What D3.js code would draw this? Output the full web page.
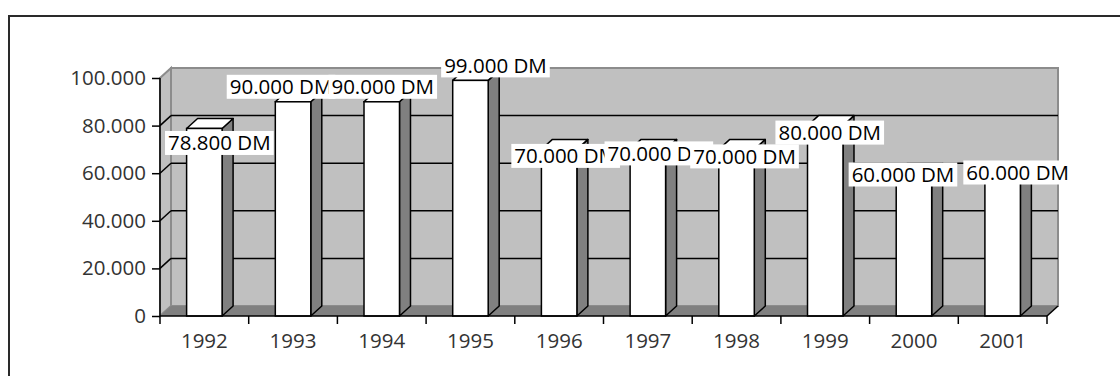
<!DOCTYPE html>
<html>
<head>
<meta charset="utf-8">
<script src="https://cdn.jsdelivr.net/npm/d3@7"></script>
<style>
  body { margin: 0; background: #fff; }
  svg text { font-family: "Open Sans", "Noto Sans", sans-serif; }
</style>
</head>
<body>
<svg id="chart" width="1120" height="376"></svg>
<script>
const years = ["1992", "1993", "1994", "1995", "1996", "1997", "1998", "1999", "2000", "2001"];
const revenue = [78800, 90000, 90000, 99000, 70000, 70000, 70000, 80000, 60000, 60000];
const yTicks = [0, 20000, 40000, 60000, 80000, 100000];

// where Excel dropped each data label, relative to the bar top (px)
const labelDx = [15, -12, 1, 25, 6.5, 11, 8, 4.5, -11, 15];
const labelDy = [14.5, -15, -15, -15, 6.5, 4, 7, 7, 1.3, -0.7];

(function revenueChart() {
  const svg = d3.select("#chart");
  const de = d3.formatLocale({ decimal: ",", thousands: ".", grouping: [3], currency: ["", " DM"] });
  const fmt = de.format(",.0f");

  const left = 160, right = 1047, bottom = 316, top = 78;
  const depth = { dx: 11, dy: -10 };

  const x = d3.scaleBand().domain(years).range([left, right]).padding(0);
  const y = d3.scaleLinear().domain([0, 100000]).range([bottom, top]);
  const barW = x.bandwidth() * 0.4;
  const pts = p => p.map(d => d.join(",")).join(" ");

  // outer frame
  svg.append("rect")
    .attr("x", 9).attr("y", 16)
    .attr("width", 1300).attr("height", 500)
    .attr("fill", "none").attr("stroke", "#2a2a2a").attr("stroke-width", 2);

  const walls = svg.append("g");
  // back wall
  walls.append("rect")
    .attr("x", left + depth.dx).attr("y", y(100000) + depth.dy)
    .attr("width", right - left).attr("height", y(0) - y(100000))
    .attr("fill", "#c0c0c0").attr("stroke", "#8c8c8c").attr("stroke-width", 2);
  // side wall
  walls.append("polygon")
    .attr("points", pts([[left, y(0)], [left, y(100000)],
      [left + depth.dx, y(100000) + depth.dy], [left + depth.dx, y(0) + depth.dy]]))
    .attr("fill", "#c0c0c0").attr("stroke", "#8c8c8c").attr("stroke-width", 2);
  // floor
  walls.append("polygon")
    .attr("points", pts([[left, y(0)], [right, y(0)],
      [right + depth.dx, y(0) + depth.dy], [left + depth.dx, y(0) + depth.dy]]))
    .attr("fill", "#808080");
  walls.append("line")
    .attr("x1", right).attr("y1", y(0))
    .attr("x2", right + depth.dx).attr("y2", y(0) + depth.dy)
    .attr("stroke", "#000").attr("stroke-width", 1.5);

  // gridlines on back and side wall
  const inner = yTicks.filter(t => t > 0 && t < 100000);
  walls.selectAll(".grid-back").data(inner).join("line")
    .attr("x1", left + depth.dx).attr("x2", right + depth.dx)
    .attr("y1", d => y(d) + depth.dy).attr("y2", d => y(d) + depth.dy)
    .attr("stroke", "#000").attr("stroke-width", 1.5);
  walls.selectAll(".grid-side").data(inner).join("line")
    .attr("x1", left).attr("y1", d => y(d))
    .attr("x2", left + depth.dx).attr("y2", d => y(d) + depth.dy)
    .attr("stroke", "#000").attr("stroke-width", 1.5);

  // bars
  const bars = svg.append("g").selectAll("g")
    .data(years.map((c, i) => ({ c, v: revenue[i], i })))
    .join("g");
  bars.each(function (d) {
    const g = d3.select(this);
    const x0 = x(d.c) + (x.bandwidth() - barW) / 2, x1 = x0 + barW;
    const yt = y(d.v), yb = y(0);
    g.append("polygon")
      .attr("points", pts([[x1, yb], [x1 + depth.dx, yb + depth.dy],
        [x1 + depth.dx, yt + depth.dy], [x1, yt]]))
      .attr("fill", "#808080").attr("stroke", "#000").attr("stroke-width", 1.5)
      .attr("stroke-linejoin", "round");
    g.append("polygon")
      .attr("points", pts([[x0, yt], [x1, yt], [x1 + depth.dx, yt + depth.dy], [x0 + depth.dx, yt + depth.dy]]))
      .attr("fill", "#fff").attr("stroke", "#000").attr("stroke-width", 1.5)
      .attr("stroke-linejoin", "round");
    g.append("rect")
      .attr("x", x0).attr("y", yt).attr("width", barW).attr("height", yb - yt)
      .attr("fill", "#fff").attr("stroke", "#000").attr("stroke-width", 1.5);
  });

  // y axis
  const yAxis = svg.append("g")
    .attr("transform", `translate(${left},0)`)
    .call(d3.axisLeft(y).tickValues(yTicks).tickFormat(fmt).tickSize(8).tickPadding(6));
  yAxis.select(".domain").attr("d", `M0,${y(0)}V${y(100000)}`).attr("stroke", "#000").attr("stroke-width", 1.5);
  yAxis.selectAll(".tick line").attr("stroke", "#000").attr("stroke-width", 1.5);
  yAxis.selectAll("text").style("font-size", "20.5px").attr("fill", "#333");

  // x axis
  const xAxis = svg.append("g")
    .attr("transform", `translate(0,${bottom})`)
    .call(d3.axisBottom(x).tickSize(0).tickPadding(17));
  xAxis.select(".domain").attr("d", `M${left},0H${right}`).attr("stroke", "#000").attr("stroke-width", 1.5);
  xAxis.selectAll("text").style("font-size", "20.5px").attr("fill", "#333");
  xAxis.selectAll(".sep").data(years.concat(["end"])).join("line")
    .attr("x1", (d, i) => left + i * x.step()).attr("x2", (d, i) => left + i * x.step())
    .attr("y1", 0).attr("y2", 8)
    .attr("stroke", "#000").attr("stroke-width", 1.5);

  // data labels with white boxes, later ones on top
  const labels = svg.append("g");
  years.forEach((c, i) => {
    const cx = x(c) + x.bandwidth() / 2 + labelDx[i];
    const cy = y(revenue[i]) + labelDy[i];
    const g = labels.append("g");
    const box = g.append("rect").attr("fill", "#fff");
    const t = g.append("text")
      .attr("x", cx).attr("y", cy).attr("dy", "0.36em")
      .attr("text-anchor", "middle")
      .style("font-size", "20.5px").attr("fill", "#000")
      .text(fmt(revenue[i]) + " DM");
    const w = t.node().getComputedTextLength();
    box.attr("x", cx - w / 2 - 3).attr("y", cy - 12).attr("width", w + 6).attr("height", 24);
  });
})();
</script>
</body>
</html>
